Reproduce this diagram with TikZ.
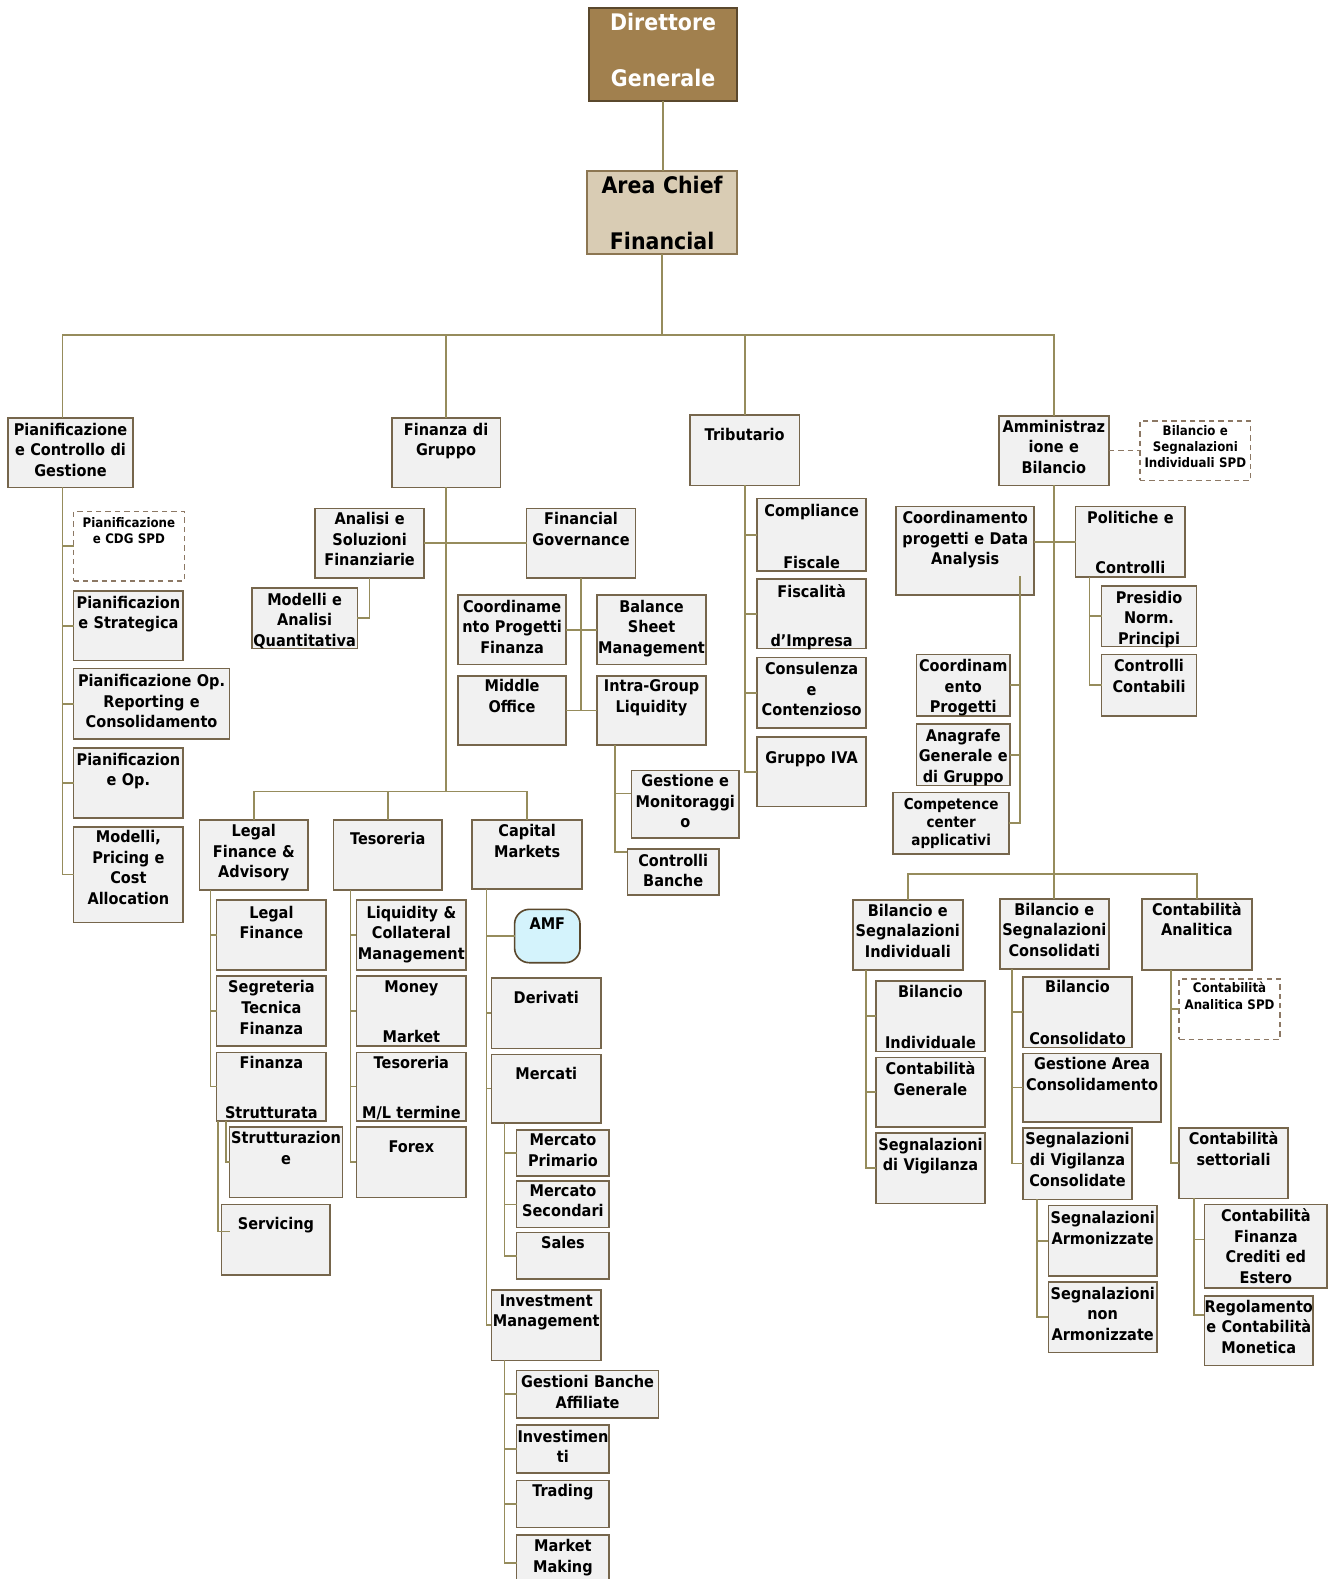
\documentclass[tikz,border=0pt]{standalone}
\usepackage{fontspec}
\newfontfamily\lab{DejaVu Sans}[FakeStretch=0.9]
\definecolor{lineC}{RGB}{150,140,92}
\definecolor{boxD}{RGB}{118,102,76}
\definecolor{fillG}{RGB}{241,241,241}
\definecolor{dgFill}{RGB}{161,128,78}
\definecolor{dgDraw}{RGB}{90,72,45}
\definecolor{acfFill}{RGB}{217,204,180}
\definecolor{acfDraw}{RGB}{140,118,82}
\definecolor{amfFill}{RGB}{212,243,252}
\definecolor{dashC}{RGB}{140,120,100}

\tikzset{
  conn/.style={draw=lineC, line width=1.3pt},
  dconn/.style={draw=dashC, line width=1.2pt, dash pattern=on 4pt off 3pt},
  ob/.style={rectangle, draw=boxD, fill=fillG, line width=1.2pt, inner sep=0pt, outer sep=0pt},
  obT/.style={inner sep=0pt, align=center, font=\lab\bfseries\fontsize{12}{15.3}\selectfont},
  db/.style={rectangle, draw=dashC, fill=white, line width=1.1pt, dash pattern=on 4pt off 3pt, inner sep=0pt, outer sep=0pt},
  dbT/.style={inner sep=0pt, align=center, font=\lab\bfseries\fontsize{9.8}{12}\selectfont},
  cb/.style={ob},
  cbT/.style={inner sep=0pt, align=center, font=\lab\bfseries\fontsize{11.2}{13.5}\selectfont},
  amfb/.style={rectangle, rounded corners=11pt, draw=dgDraw, fill=amfFill, line width=1.2pt, inner sep=0pt, outer sep=0pt},
  amfbT/.style={obT},
  topb/.style={rectangle, draw=dgDraw, fill=dgFill, line width=1.2pt, inner sep=0pt, outer sep=0pt},
  topbT/.style={inner sep=0pt, align=center, text=white, font=\lab\bfseries\fontsize{17}{20}\selectfont},
  cfo/.style={rectangle, draw=acfDraw, fill=acfFill, line width=1.2pt, inner sep=0pt, outer sep=0pt},
  cfoT/.style={inner sep=0pt, align=center, font=\lab\bfseries\fontsize{17}{20}\selectfont},
}

% \ob[style]{name}{x1}{y1}{x2}{y2}{y of first text line}{text}
\newcommand\ob[8][ob]{%
  \node[#1, minimum width={((#5)-(#3))*0.75pt}, minimum height={((#6)-(#4))*0.75pt}, anchor=north west] (#2) at (#3,#4) {};
  \node[#1T, text width={((#5)-(#3)+30)*0.75pt}, anchor=base] (#2-t) at ({((#3)+(#5))/2},{(#7)+5}) {#8};
}

\begin{document}
\begin{tikzpicture}[x=0.75pt, y=-0.75pt]
\useasboundingbox (0,0) rectangle (1321,1568);
\fill[white] (0,0) rectangle (1321,1568);

% ---------- top levels ----------
\ob[topb]{dg}{585}{8}{732}{100}{25}{Direttore\\[22pt]Generale}
\ob[cfo]{acf}{583}{170}{732}{252}{187}{Area Chief\\[22pt]Financial}

\ob{pcg}{8}{415}{132}{484}{427}{Pianificazione\\e Controllo di\\Gestione}
\ob{fdg}{389}{415}{497}{484}{427}{Finanza di\\Gruppo}
\ob{trib}{685}{412}{794}{482}{432}{Tributario}
\ob{amm}{992}{413}{1101}{482}{424}{Amministraz\\ione e\\Bilancio}
\ob[db]{spd1}{1132}{418}{1242}{477}{427}{Bilancio e\\Segnalazioni\\Individuali SPD}

% ---------- Pianificazione e Controllo ----------
\ob[db]{pcdg}{73}{508}{183}{577}{519}{Pianificazione\\e CDG SPD}
\ob{pstr}{73}{587}{182}{656}{599}{Pianificazion\\e Strategica}
\ob{prep}{73}{664}{228}{734}{677}{Pianificazione Op.\\Reporting e\\Consolidamento}
\ob{pop}{73}{743}{182}{812}{755}{Pianificazion\\e Op.}
\ob{mpc}{73}{821}{182}{916}{832}{Modelli,\\Pricing e\\Cost\\Allocation}

% ---------- Finanza di Gruppo ----------
\ob{asf}{313}{505}{421}{574}{516}{Analisi e\\Soluzioni\\Finanziarie}
\ob{maq}{250}{584}{355}{644}{596}{Modelli e\\Analisi\\Quantitativa}
\ob{fgov}{523}{505}{631}{574}{516}{Financial\\Governance}
\ob{cpf}{455}{591}{562}{660}{603}{Coordiname\\nto Progetti\\Finanza}
\ob{bsm}{593}{591}{701}{660}{603}{Balance\\Sheet\\Management}
\ob{mo}{455}{671}{562}{740}{682}{Middle\\Office}
\ob{igl}{593}{671}{701}{740}{682}{Intra-Group\\Liquidity}
\ob{gem}{627}{765}{734}{832}{776}{Gestione e\\Monitoraggi\\o}
\ob{cbk}{623}{843}{714}{889}{855}{Controlli\\Banche}

\ob{lfa}{198}{814}{306}{884}{826}{Legal\\Finance \&\\Advisory}
\ob{tes}{331}{814}{439}{884}{834}{Tesoreria}
\ob{cm}{469}{814}{578}{883}{826}{Capital\\Markets}

\ob{lf}{215}{894}{324}{963}{907}{Legal\\Finance}
\ob{stf}{215}{969}{324}{1039}{981}{Segreteria\\Tecnica\\Finanza}
\ob{fs}{215}{1045}{324}{1113}{1056}{Finanza\\[22pt]Strutturata}
\ob{str}{228}{1119}{340}{1189}{1131}{Strutturazion\\e}
\ob{serv}{220}{1196}{328}{1266}{1216}{Servicing}

\ob{lcm}{354}{894}{463}{963}{907}{Liquidity \&\\Collateral\\Management}
\ob{mm}{354}{969}{463}{1039}{981}{Money\\[21.5pt]Market}
\ob{tml}{354}{1045}{463}{1113}{1056}{Tesoreria\\[22pt]M/L termine}
\ob{fx}{354}{1119}{463}{1189}{1139}{Forex}

\ob[amfb]{amf}{511}{903}{576}{956}{918}{AMF}
\ob{der}{488}{971}{597}{1041}{991}{Derivati}
\ob{mer}{488}{1047}{597}{1115}{1067}{Mercati}
\ob{mp}{513}{1122}{605}{1168}{1133}{Mercato\\Primario}
\ob{ms}{513}{1173}{605}{1219}{1183}{Mercato\\Secondari}
\ob{sal}{513}{1224}{605}{1270}{1235}{Sales}
\ob{im}{488}{1281}{597}{1351}{1292}{Investment\\Management}
\ob{gba}{513}{1361}{654}{1408}{1373}{Gestioni Banche\\Affiliate}
\ob{inv}{513}{1415}{605}{1463}{1427}{Investimen\\ti}
\ob{trd}{513}{1470}{605}{1517}{1481}{Trading}
\ob{mmk}{513}{1524}{605}{1580}{1536}{Market\\Making}

% ---------- Tributario ----------
\ob{cf}{752}{495}{860}{567}{508}{Compliance\\[23pt]Fiscale}
\ob{fi}{752}{575}{860}{644}{588}{Fiscalità\\[21.5pt]d’Impresa}
\ob{cc}{752}{653}{860}{723}{665}{Consulenza\\e\\Contenzioso}
\ob{iva}{752}{732}{860}{801}{753}{Gruppo IVA}

% ---------- Amministrazione e Bilancio ----------
\ob{cpda}{890}{503}{1027}{591}{515}{Coordinamento\\progetti e Data\\Analysis}
\ob{pc}{1068}{503}{1177}{573}{515}{Politiche e\\[21.5pt]Controlli}
\ob{cpr}{910}{650}{1003}{711}{662}{Coordinam\\ento\\Progetti}
\ob{ana}{910}{719}{1003}{780}{731}{Anagrafe\\Generale e\\di Gruppo}
\ob[cb]{ccap}{887}{787}{1002}{848}{799}{Competence\\center\\applicativi}
\ob{pnp}{1094}{582}{1188}{642}{594}{Presidio\\Norm.\\Principi}
\ob{ccont}{1094}{650}{1188}{711}{662}{Controlli\\Contabili}

\ob{bsi}{847}{894}{956}{963}{905}{Bilancio e\\Segnalazioni\\Individuali}
\ob{bsc}{993}{893}{1101}{962}{904}{Bilancio e\\Segnalazioni\\Consolidati}
\ob{ca}{1134}{893}{1243}{963}{904}{Contabilità\\Analitica}

\ob{bi}{870}{974}{978}{1044}{986}{Bilancio\\[22pt]Individuale}
\ob{cg}{870}{1050}{978}{1119}{1062}{Contabilità\\Generale}
\ob{sv}{870}{1125}{978}{1195}{1137}{Segnalazioni\\di Vigilanza}

\ob{bc}{1016}{970}{1124}{1040}{981}{Bilancio\\[23pt]Consolidato}
\ob{gac}{1016}{1046}{1153}{1114}{1057}{Gestione Area\\Consolidamento}
\ob{svc}{1016}{1120}{1124}{1191}{1132}{Segnalazioni\\di Vigilanza\\Consolidate}
\ob{sa}{1041}{1197}{1149}{1267}{1210}{Segnalazioni\\Armonizzate}
\ob{sna}{1041}{1273}{1149}{1343}{1285}{Segnalazioni\\non\\Armonizzate}

\ob[db]{casp}{1171}{972}{1271}{1032}{981}{Contabilità\\Analitica SPD}
\ob{cs}{1171}{1120}{1279}{1190}{1132}{Contabilità\\settoriali}
\ob{cfce}{1196}{1196}{1318}{1279}{1208}{Contabilità\\Finanza\\Crediti ed\\Estero}
\ob{rcm}{1196}{1287}{1304}{1356}{1298}{Regolamento\\e Contabilità\\Monetica}

% ---------- connectors ----------
\coordinate (busY) at (0,333);
\coordinate (fbusY) at (0,786);
\coordinate (abusY) at (0,868);
\coordinate (xL) at (62,0);
\coordinate (xIG) at (611,0);
\coordinate (xLF) at (209,0);
\coordinate (xFS1) at (216.5,0);
\coordinate (xFS2) at (224.5,0);
\coordinate (xT) at (348,0);
\coordinate (xC) at (483,0);
\coordinate (xM) at (501,0);
\coordinate (xPC) at (1082,0);
\coordinate (xBI) at (860,0);
\coordinate (xBC) at (1005,0);
\coordinate (xSV) at (1030,0);
\coordinate (xCA) at (1163,0);
\coordinate (xCS) at (1186,0);
\coordinate (cpdaIn) at (1013,572);

\draw[conn] (dg.south) -- (dg.south |- acf.north);
\draw[conn] (acf.south) -- (acf.south |- busY);
\draw[conn] (pcg.north -| xL) |- (busY -| amm.north) -- (amm.north);
\draw[conn] (fdg.north) -- (fdg.north |- busY);
\draw[conn] (trib.north) -- (trib.north |- busY);

\foreach \c in {pcdg,pstr,prep,pop,mpc}
  \draw[conn] (pcg.south -| xL) |- (\c.west);

\draw[conn] (fdg.south) -- (fdg.south |- fbusY);
\draw[conn] (asf.east) -- (fgov.west);
\draw[conn] (asf.south) |- (maq.east);
\draw[conn] (fgov.south) -- (fgov.south |- mo.east);
\draw[conn] (cpf.east) -- (bsm.west);
\draw[conn] (mo.east) -- (igl.west);
\draw[conn] (igl.south -| xIG) |- ([yshift=7.9pt]gem.west);
\draw[conn] (igl.south -| xIG) |- ([yshift=15pt]cbk.west);

\draw[conn] (lfa.north) |- (fbusY -| cm.north) -- (cm.north);
\draw[conn] (tes.north) -- (tes.north |- fbusY);

\foreach \c in {lf,stf,fs}
  \draw[conn] (lfa.south -| xLF) |- (\c.west);
\draw[conn] (fs.south -| xFS2) |- (str.west);
\draw[conn] (fs.south -| xFS1) |- ([xshift=6pt,yshift=6pt]serv.west);

\foreach \c in {lcm,mm,tml,fx}
  \draw[conn] (tes.south -| xT) |- (\c.west);
\foreach \c in {amf,der,mer,im}
  \draw[conn] (cm.south -| xC) |- (\c.west);
\foreach \c in {mp,ms,sal}
  \draw[conn] (mer.south -| xM) |- (\c.west);
\foreach \c in {gba,inv,trd,mmk}
  \draw[conn] (im.south -| xM) |- (\c.west);

\foreach \c in {cf,fi,cc,iva}
  \draw[conn] (trib.south) |- (\c.west);

\draw[conn] (amm.south) -- (amm.south |- abusY);
\draw[dconn] (amm.east) -- (spd1.west);
\draw[conn] (cpda.east |- pc.west) -- (pc.west);
\foreach \c in {cpr,ana,ccap}
  \draw[conn] (cpdaIn) |- (\c.east);
\foreach \c in {pnp,ccont}
  \draw[conn] (pc.south -| xPC) |- (\c.west);

\draw[conn] (bsi.north) |- (abusY -| ca.north) -- (ca.north);
\draw[conn] (bsc.north) -- (bsc.north |- abusY);
\foreach \c in {bi,cg,sv}
  \draw[conn] (bsi.south -| xBI) |- (\c.west);
\foreach \c in {bc,gac,svc}
  \draw[conn] (bsc.south -| xBC) |- (\c.west);
\foreach \c in {sa,sna}
  \draw[conn] (svc.south -| xSV) |- (\c.west);
\foreach \c in {casp,cs}
  \draw[conn] (ca.south -| xCA) |- (\c.west);
\draw[conn] (cs.south -| xCS) |- ([yshift=4.9pt]cfce.west);
\draw[conn] (cs.south -| xCS) |- ([yshift=11.6pt]rcm.west);
\end{tikzpicture}
\end{document}
